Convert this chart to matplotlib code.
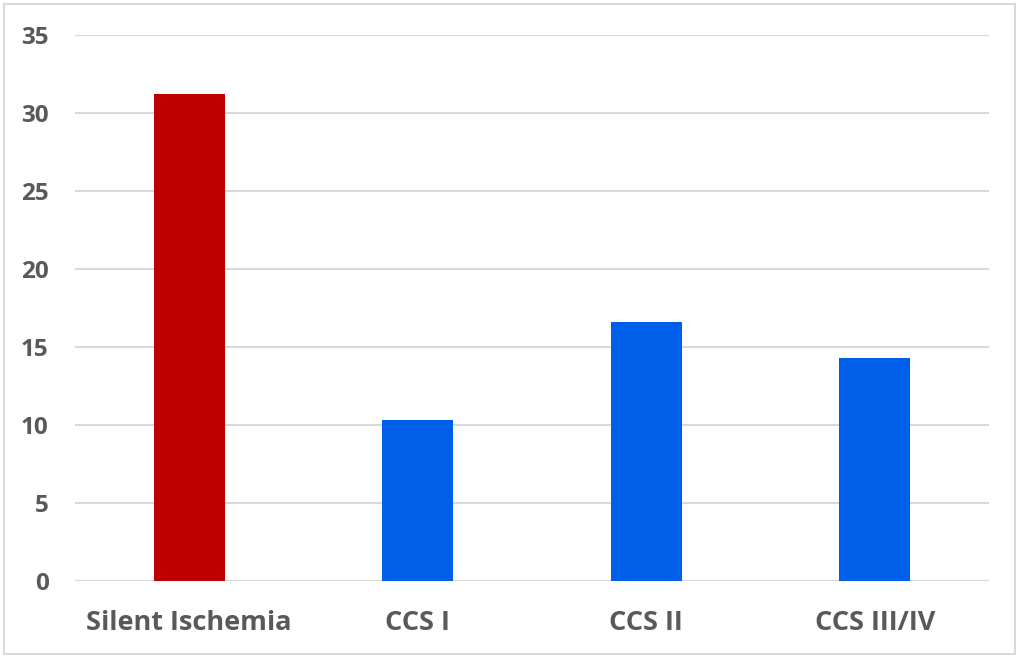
import matplotlib
matplotlib.use('Agg')
import matplotlib.pyplot as plt
from matplotlib.patches import Rectangle

categorias = ['Silent Ischemia', 'CCS I', 'CCS II', 'CCS III/IV']
valores = [31.2, 10.3, 16.6, 14.3]
cores = ['#C00000', '#005FE8', '#005FE8', '#005FE8']
ticks_y = [0, 5, 10, 15, 20, 25, 30, 35]

plt.rcParams['font.family'] = ['Open Sans', 'DejaVu Sans']

fig = plt.figure(figsize=(10.18, 6.57), dpi=100)
ax = fig.add_axes([75/1018, 1 - 581/657, (989 - 75)/1018, (581 - 35)/657])

x = range(len(categorias))
ax.bar(x, valores, width=0.31, color=cores, zorder=3)

ax.set_ylim(0, 35)
ax.set_xlim(-0.5, len(categorias) - 0.5)
ax.set_yticks(ticks_y)
ax.set_xticks(list(x))
ax.set_xticklabels(categorias)
ax.yaxis.grid(True, color='#D9D9D9', linewidth=1.5, zorder=0)
ax.tick_params(axis='both', length=0, labelcolor='#595959')
ax.tick_params(axis='y', pad=19, labelsize=17.5)
ax.tick_params(axis='x', pad=21, labelsize=19.5)
for lbl in ax.get_xticklabels() + ax.get_yticklabels():
    lbl.set_fontweight('bold')
for s in ax.spines.values():
    s.set_visible(False)

# moldura clara em volta da figura
fig.patches.append(Rectangle((4/1018, 3/657), 1011/1018, 650/657, transform=fig.transFigure,
                             fill=False, edgecolor='#D9D9D9', linewidth=1.5))

fig.savefig('out.png', dpi=100)
